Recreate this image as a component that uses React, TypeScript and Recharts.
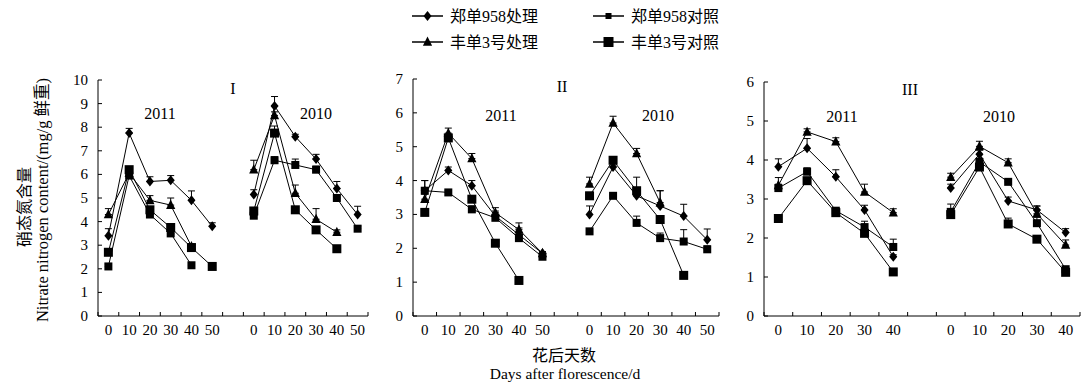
import { LineChart, Line, XAxis, YAxis, ErrorBar } from 'recharts';

const W = 1083;
const H = 386;
const AXIS_Y = 316;
const serif = '"Liberation Serif", "Times New Roman", "Noto Sans CJK SC", serif';

// series: zt = 郑单958处理, ft = 丰单3号处理, zc = 郑单958对照, fc = 丰单3号对照
// panel I (2011 | gap | 2010)
const catsI = ['0', '10', '20', '30', '40', '50', '', '0', '10', '20', '30', '40', '50'];
const ztI = [3.4, 7.75, 5.7, 5.75, 4.9, 3.8, null, 5.15, 8.9, 7.6, 6.65, 5.4, 4.3];
const ftI = [4.3, 6.05, 4.9, 4.7, 2.95, null, null, 6.2, 8.5, 5.2, 4.1, 3.55, null];
const zcI = [2.1, 5.95, 4.3, 3.5, 2.15, null, null, 4.25, 6.6, 6.4, 6.2, 5.0, 3.7];
const fcI = [2.7, 6.2, 4.5, 3.75, 2.9, 2.1, null, 4.45, 7.75, 4.5, 3.65, 2.85, null];
const ztErrI = [0.3, 0.2, 0.2, 0.2, 0.4, 0.15, null, 0.2, 0.4, 0.1, 0.2, 0.3, 0.35];
const ftErrI = [0.25, 0.1, 0.2, 0.3, 0.1, null, null, 0.4, 0.15, 0.35, 0.45, 0.1, null];
const zcErrI = [0.1, 0.1, 0.1, 0.1, 0.1, null, null, 0.1, 0.15, 0.25, 0.15, 0.1, 0.1];
const fcErrI = [0.1, 0.1, 0.1, 0.1, 0.1, 0.1, null, 0.1, 0.3, 0.1, 0.1, 0.1, null];

// panel II
const catsII = ['0', '10', '20', '30', '40', '50', '', '0', '10', '20', '30', '40', '50'];
const ztII = [3.7, 4.3, 3.85, 2.95, 2.4, 1.85, null, 3.0, 4.4, 3.55, 3.25, 2.95, 2.25];
const ftII = [3.45, 5.4, 4.65, 3.05, 2.55, 1.85, null, 3.9, 5.7, 4.8, 3.35, null, null];
const zcII = [3.7, 3.65, 3.15, 2.9, 2.3, 1.75, null, 2.5, 3.55, 2.75, 2.3, 2.2, 1.97];
const fcII = [3.06, 5.26, 3.45, 2.15, 1.05, null, null, 3.55, 4.6, 3.7, 2.85, 1.2, null];
const ztErrII = [0.3, 0.1, 0.15, 0.15, 0.2, 0.05, null, 0.25, 0.1, 0.1, 0.45, 0.35, 0.32];
const ftErrII = [0.15, 0.15, 0.15, 0.15, 0.2, 0.05, null, 0.2, 0.2, 0.15, 0.35, null, null];
const zcErrII = [0.3, 0.05, 0.1, 0.1, 0.1, 0.1, null, 0.05, 0.05, 0.2, 0.15, 0.35, 0.1];
const fcErrII = [0.1, 0.1, 0.1, 0.1, 0.05, null, null, 0.1, 0.1, 0.4, 0.1, 0.1, null];

// panel III
const catsIII = ['0', '10', '20', '30', '40', '', '0', '10', '20', '30', '40'];
const ztIII = [3.83, 4.3, 3.57, 2.72, 1.52, null, 3.28, 4.15, 2.95, 2.72, 2.14];
const ftIII = [3.35, 4.72, 4.47, 3.18, 2.65, null, 3.56, 4.35, 3.93, 2.62, 1.82];
const zcIII = [3.28, 3.7, 2.7, 2.28, 1.77, null, 2.67, 3.95, 3.44, 2.38, 1.2];
const fcIII = [2.5, 3.47, 2.65, 2.12, 1.13, null, 2.6, 3.82, 2.36, 1.97, 1.12];
const ztErrIII = [0.2, 0.25, 0.18, 0.12, 0.05, null, 0.1, 0.1, 0.1, 0.1, 0.1];
const ftErrIII = [0.2, 0.08, 0.1, 0.2, 0.1, null, 0.1, 0.13, 0.1, 0.2, 0.13];
const zcErrIII = [0.1, 0.1, 0.05, 0.15, 0.2, null, 0.2, 0.1, 0.05, 0.15, 0.05];
const fcErrIII = [0.05, 0.05, 0.05, 0.05, 0.05, null, 0.05, 0.05, 0.15, 0.05, 0.05];

const yTicksI = [0, 1, 2, 3, 4, 5, 6, 7, 8, 9, 10];
const yTicksII = [0, 1, 2, 3, 4, 5, 6, 7];
const yTicksIII = [0, 1, 2, 3, 4, 5, 6];

type Num = number | null;

function buildRows(cats: string[], vals: Num[][], errs: Num[][]) {
  const keys = ['zt', 'ft', 'zc', 'fc'];
  return cats.map((c, i) => {
    const row: any = { i, cat: c };
    keys.forEach((k, s) => {
      const v = vals[s][i];
      const e = errs[s][i];
      row[k] = v;
      row[k + 'E'] = v == null || e == null ? null : [0, e];
    });
    return row;
  });
}

const rowsI = buildRows(catsI, [ztI, ftI, zcI, fcI], [ztErrI, ftErrI, zcErrI, fcErrI]);
const rowsII = buildRows(catsII, [ztII, ftII, zcII, fcII], [ztErrII, ftErrII, zcErrII, fcErrII]);
const rowsIII = buildRows(catsIII, [ztIII, ftIII, zcIII, fcIII], [ztErrIII, ftErrIII, zcErrIII, fcErrIII]);

// marker shapes
function Marker({ kind, cx, cy }: { kind: string; cx: number; cy: number }) {
  if (kind === 'diamond') {
    return <path d={`M${cx},${cy - 5}L${cx + 4},${cy}L${cx},${cy + 5}L${cx - 4},${cy}Z`} fill="#000" />;
  }
  if (kind === 'triangle') {
    return <path d={`M${cx},${cy - 5.5}L${cx + 4.6},${cy + 3.8}L${cx - 4.6},${cy + 3.8}Z`} fill="#000" />;
  }
  const s = kind === 'bigSquare' ? 9 : 8;
  return <rect x={cx - s / 2} y={cy - s / 2} width={s} height={s} fill="#000" />;
}

const renderDot = (kind: string) => (props: any) => {
  const { cx, cy, value, index } = props;
  if (value == null || cx == null || cy == null) return <g key={`${kind}-${index}`} />;
  return (
    <g key={`${kind}-${index}`}>
      <Marker kind={kind} cx={cx} cy={cy} />
    </g>
  );
};

const XTick = (props: any) => {
  const { x, y, payload, cats, step } = props;
  const i = payload.value;
  const n = cats.length;
  return (
    <g>
      <line x1={x - step / 2} x2={x - step / 2} y1={y} y2={y - 4} stroke="#000" />
      {i === n - 1 && <line x1={x + step / 2} x2={x + step / 2} y1={y} y2={y - 4} stroke="#000" />}
      <text x={x} y={y + 19} textAnchor="middle" fontSize={15} fontFamily={serif} fill="#000">
        {cats[i]}
      </text>
    </g>
  );
};

const YTick = (props: any) => {
  const { x, y, payload } = props;
  return (
    <g>
      <line x1={x} x2={x + 4} y1={y} y2={y} stroke="#000" />
      <text x={x - 10} y={y + 5} textAnchor="end" fontSize={15} fontFamily={serif} fill="#000">
        {payload.value}
      </text>
    </g>
  );
};

const seriesDefs = [
  { key: 'zc', kind: 'square' },
  { key: 'fc', kind: 'bigSquare' },
  { key: 'ft', kind: 'triangle' },
  { key: 'zt', kind: 'diamond' },
];

interface PanelProps {
  left: number;
  width: number;
  plotLeft: number;
  plotRight: number;
  top: number;
  yMax: number;
  yTicks: number[];
  cats: string[];
  rows: any[];
}

function Panel({ left, width, plotLeft, plotRight, top, yMax, yTicks, cats, rows }: PanelProps) {
  const yAxisW = 30;
  const xAxisH = 30;
  const n = cats.length;
  const step = (plotRight - plotLeft) / n;
  return (
    <div style={{ position: 'absolute', left, top: 0 }}>
      <LineChart
        width={width}
        height={H}
        data={rows}
        margin={{
          top,
          right: left + width - plotRight,
          left: plotLeft - left - yAxisW,
          bottom: H - AXIS_Y - xAxisH,
        }}
      >
        <XAxis
          type="number"
          dataKey="i"
          domain={[-0.5, n - 0.5]}
          ticks={cats.map((_, i) => i)}
          interval={0}
          height={xAxisH}
          tickSize={0}
          tickMargin={0}
          tickLine={false}
          axisLine={{ stroke: '#000', strokeWidth: 1 }}
          tick={<XTick cats={cats} step={step} />}
        />
        <YAxis
          type="number"
          domain={[0, yMax]}
          ticks={yTicks}
          interval={0}
          width={yAxisW}
          tickSize={0}
          tickMargin={0}
          tickLine={false}
          axisLine={{ stroke: '#000', strokeWidth: 1 }}
          tick={<YTick />}
        />
        {seriesDefs.map((s) => (
          <Line
            key={s.key}
            type="linear"
            dataKey={s.key}
            stroke="#000"
            strokeWidth={1}
            dot={renderDot(s.kind)}
            activeDot={false}
            connectNulls={false}
            isAnimationActive={false}
          >
            <ErrorBar dataKey={s.key + 'E'} direction="y" width={3.5} stroke="#000" strokeWidth={1} />
          </Line>
        ))}
      </LineChart>
    </div>
  );
}

const legendItems = [
  { label: '郑单958处理', kind: 'diamond', x: 412, y: 16 },
  { label: '丰单3号处理', kind: 'triangle', x: 412, y: 42 },
  { label: '郑单958对照', kind: 'legendSmall', x: 593, y: 16 },
  { label: '丰单3号对照', kind: 'bigLegend', x: 593, y: 42 },
];

function LegendMarker({ kind, cx, cy }: { kind: string; cx: number; cy: number }) {
  if (kind === 'legendSmall') return <rect x={cx - 3} y={cy - 3} width={6} height={6} fill="#000" />;
  if (kind === 'bigLegend') return <rect x={cx - 5} y={cy - 5} width={10} height={10} fill="#000" />;
  return <Marker kind={kind} cx={cx} cy={cy} />;
}

const yearLabels = [
  { t: 'I', x: 233, y: 88 },
  { t: '2011', x: 160, y: 113 },
  { t: '2010', x: 316, y: 113 },
  { t: 'II', x: 562, y: 86 },
  { t: '2011', x: 501, y: 115 },
  { t: '2010', x: 658, y: 115 },
  { t: 'III', x: 910, y: 89 },
  { t: '2011', x: 842, y: 116 },
  { t: '2010', x: 999, y: 116 },
];

export default function App() {
  return (
    <div style={{ position: 'absolute', left: 0, top: 0, width: W, height: H, background: '#fff', overflow: 'hidden' }}>
      <Panel left={0} width={380} plotLeft={98} plotRight={368} top={80} yMax={10} yTicks={yTicksI} cats={catsI} rows={rowsI} />
      <Panel left={372} width={360} plotLeft={413} plotRight={719} top={79} yMax={7} yTicks={yTicksII} cats={catsII} rows={rowsII} />
      <Panel left={728} width={355} plotLeft={764} plotRight={1080} top={82} yMax={6} yTicks={yTicksIII} cats={catsIII} rows={rowsIII} />

      <svg width={W} height={H} style={{ position: 'absolute', left: 0, top: 0, pointerEvents: 'none' }}>
        {/* legend */}
        {legendItems.map((it) => (
          <g key={it.label}>
            <line x1={it.x} x2={it.x + 31} y1={it.y} y2={it.y} stroke="#000" strokeWidth={1.5} />
            <LegendMarker kind={it.kind} cx={it.x + 15.5} cy={it.y} />
            <text x={it.x + 38} y={it.y + 5.5} fontSize={16} fontFamily={serif} fill="#000">
              {it.label}
            </text>
          </g>
        ))}

        {/* panel tags and years */}
        {yearLabels.map((l, i) => (
          <text key={i} x={l.x} y={l.y + 5.5} textAnchor="middle" fontSize={16} fontFamily={serif} fill="#000">
            {l.t}
          </text>
        ))}

        {/* y axis title */}
        <text x={0} y={0} transform="translate(30,207) rotate(-90)" textAnchor="middle" fontSize={16} fontFamily={serif} fill="#000">
          硝态氮含量
        </text>
        <text x={0} y={0} transform="translate(48,200) rotate(-90)" textAnchor="middle" fontSize={16.5} fontFamily={serif} fill="#000">
          Nitrate nitrogen content/(mg/g 鲜重)
        </text>

        {/* x axis title */}
        <text x={564} y={361} textAnchor="middle" fontSize={16} fontFamily={serif} fill="#000">
          花后天数
        </text>
        <text x={565} y={379} textAnchor="middle" fontSize={15.5} fontFamily={serif} fill="#000">
          Days after florescence/d
        </text>
      </svg>
    </div>
  );
}
